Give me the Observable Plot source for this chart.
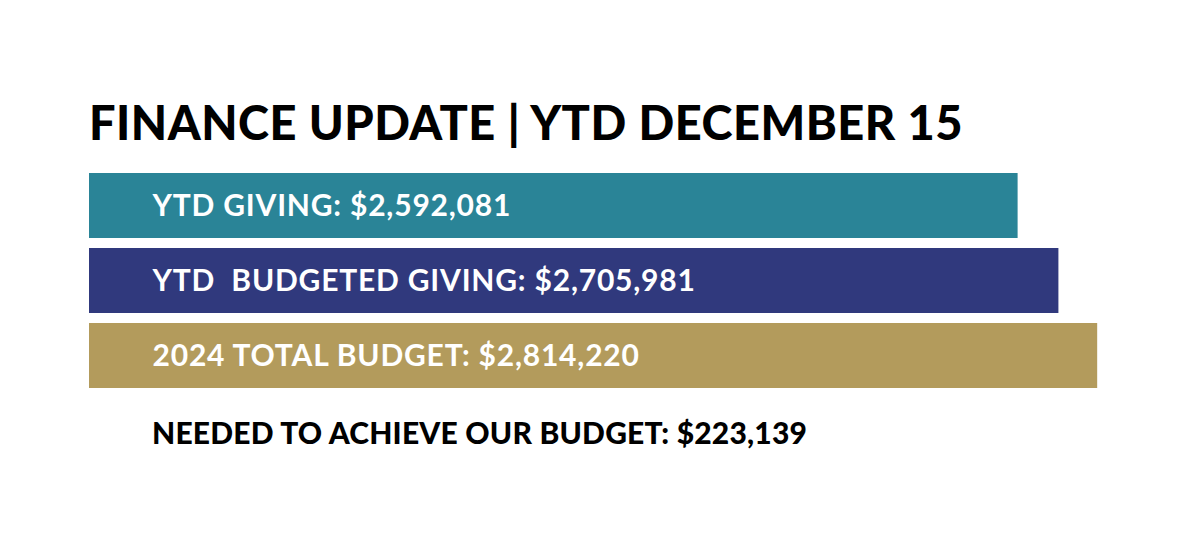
<!DOCTYPE html>
<html>
<head>
<meta charset="utf-8">
<script src="https://cdn.jsdelivr.net/npm/d3@7"></script>
<script src="https://cdn.jsdelivr.net/npm/@observablehq/plot@0.6"></script>
<style>
  html, body { margin: 0; padding: 0; background: #ffffff; width: 1200px; height: 550px; overflow: hidden; }
  #title { position: absolute; left: 89px; top: 99px; font-family: Lato, sans-serif; font-weight: 900; font-size: 47px; line-height: 47px; letter-spacing: 0.5px; color: #000; white-space: nowrap; }
  #chart { position: absolute; left: 0; top: 150px; }
  #chart text { letter-spacing: 0.8px; white-space: pre; }
  #footer { position: absolute; left: 152px; top: 417px; font-family: Lato, sans-serif; font-weight: 900; font-size: 30px; line-height: 30px; letter-spacing: 0.2px; color: #000; white-space: nowrap; }
</style>
</head>
<body>
<div id="title">FINANCE UPDATE | YTD DECEMBER 15</div>
<div id="chart"></div>
<div id="footer">NEEDED TO ACHIEVE OUR BUDGET: $223,139</div>
<script>
const categories = ["YTD GIVING", "YTD  BUDGETED GIVING", "2024 TOTAL BUDGET"];
const values = [2592081, 2705981, 2814220];
const colors = ["#2A8497", "#30397D", "#B39B5C"];
const xMax = 2850000;

const data = categories.map((c, i) => ({
  category: c,
  value: values[i],
  label: `${c}: $${d3.format(",")(values[i])}`
}));

const chart = Plot.plot({
  width: 1200,
  height: 250,
  marginLeft: 89,
  marginRight: 90,
  marginTop: 22,
  marginBottom: 12,
  x: { domain: [0, xMax], axis: null },
  y: { domain: categories, axis: null, paddingInner: 0.139, paddingOuter: 0 },
  color: { domain: categories, range: colors },
  marks: [
    Plot.barX(data, { x: "value", y: "category", fill: "category" }),
    Plot.text(data, {
      x: 0, y: "category", text: "label",
      textAnchor: "start", dx: 63,
      fill: "white", fontSize: 30, fontWeight: 700,
      fontFamily: "Lato, sans-serif"
    })
  ]
});
chart.style.fontFamily = "Lato, sans-serif";
document.getElementById("chart").appendChild(chart);
</script>
</body>
</html>
